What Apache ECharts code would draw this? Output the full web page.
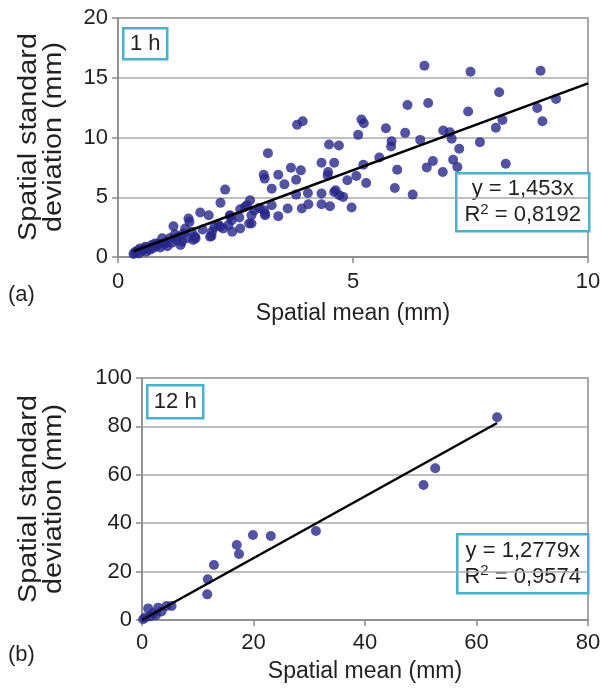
<!DOCTYPE html>
<html>
<head>
<meta charset="utf-8">
<title>Spatial mean vs spatial standard deviation</title>
<script src="https://cdn.jsdelivr.net/npm/echarts@6/dist/echarts.min.js"></script>
<style>
  html, body { margin: 0; padding: 0; background: #ffffff; }
  #chart { width: 610px; height: 692px; }
</style>
</head>
<body>
<div id="chart"></div>
<script>
// Panel (a): 1 h accumulations, [spatial mean, spatial standard deviation] in mm
const hourlyPoints = [
  [0.33,0.25],[0.36,0.35],[0.37,0.44],[0.42,0.55],[0.45,0.30],[0.47,0.72],[0.50,0.50],
  [0.54,0.65],[0.58,0.86],[0.60,0.45],[0.64,0.80],[0.68,0.60],[0.72,1.00],[0.75,0.75],
  [0.79,1.14],[0.82,0.90],[0.86,1.14],[0.90,0.80],[0.94,1.56],[0.98,1.10],[1.01,1.14],
  [1.05,0.90],[1.10,1.56],[1.15,1.20],[1.18,2.58],[1.21,1.90],[1.25,1.40],[1.29,1.69],
  [1.33,1.00],[1.36,1.28],[1.39,1.97],[1.43,2.39],[1.48,1.60],
  [1.50,3.22],[1.52,2.94],[1.57,2.11],[1.60,1.42],[1.64,1.69],[1.65,1.56],[1.75,3.72],
  [1.80,2.30],[1.93,3.50],[1.96,1.69],[1.99,1.75],[2.00,2.11],[2.05,2.50],[2.14,2.67],
  [2.17,2.53],[2.18,4.53],[2.24,2.39],[2.28,5.64],[2.35,2.67],[2.38,3.50],[2.39,3.42],
  [2.42,3.08],[2.43,2.11],
  [2.58,3.31],[2.60,4.00],[2.60,2.39],[2.70,4.19],[2.74,4.33],[2.79,2.81],[2.81,4.75],
  [2.84,3.50],[2.84,2.81],[2.90,3.90],[3.00,4.10],[3.10,3.92],[3.10,6.89],[3.12,6.56],
  [3.13,3.50],[3.13,3.64],[3.19,8.69],[3.27,5.72],[3.27,4.33],
  [3.41,6.89],[3.41,3.42],[3.54,6.08],[3.61,4.06],[3.68,7.47],[3.79,6.47],[3.79,5.22],
  [3.81,11.06],[3.89,7.25],[3.91,4.06],[3.93,11.36],[4.04,5.36],[4.05,4.42],
  [4.33,7.89],[4.33,5.31],[4.33,4.42],[4.46,6.83],[4.47,7.11],[4.49,9.42],[4.51,4.25],
  [4.60,7.89],[4.60,5.44],[4.63,5.58],[4.70,9.33],[4.71,5.17],[4.79,5.03],[4.88,6.42],
  [4.97,4.14],[5.07,6.78],[5.11,10.22],[5.18,11.50],[5.22,7.72],[5.23,11.19],[5.28,6.19],
  [5.56,8.33],[5.70,10.78],[5.81,9.25],[5.82,9.69],[5.89,5.78],[5.94,7.31],[6.11,10.39],
  [6.16,12.72],[6.27,5.22],[6.43,9.80],[6.52,16.00],[6.57,7.50],[6.60,12.89],[6.70,8.03],
  [6.91,7.11],[6.92,10.58],[7.06,10.44],[7.10,9.89],[7.13,8.14],[7.22,7.53],[7.26,9.06],
  [7.45,12.17],[7.50,15.50],[7.70,9.61],[8.04,10.81],[8.11,13.78],[8.18,11.47],[8.25,7.81],
  [8.92,12.47],[8.99,15.58],[9.03,11.36],[9.32,13.22]
];

// Panel (b): 12 h accumulations
const twelveHourPoints = [
  [0.2,0.3],[0.6,1.0],[1.1,4.8],[1.5,1.5],[2.0,2.8],[2.5,2.0],[2.9,5.1],[3.5,3.5],
  [4.4,5.8],[5.3,5.8],[11.7,10.6],[11.8,16.8],[12.9,22.7],[17.0,31.0],[17.4,27.3],
  [19.9,35.1],[23.1,34.7],[31.2,36.8],[50.5,55.8],[52.6,62.7],[63.7,83.8]
];

// Regression through the origin, as printed in each panel
const hourlyFit = { slope: 1.453, r2: '0,8192', xEnd: 10 };
const twelveHourFit = { slope: 1.2779, r2: '0,9574', xStart: 0 };

const hourlyXTicks = [0, 10, 5];     // min, max, interval
const hourlyYTicks = [0, 20, 5];
const twelveHourXTicks = [0, 80, 20];
const twelveHourYTicks = [0, 100, 20];

const X_TITLE = 'Spatial mean (mm)';
const Y_TITLE = 'Spatial standard\ndeviation (mm)';

const FONT = "'Liberation Sans', Arial, sans-serif";
const TEXT = '#231f20';
const DOT = '#27288a';
const FRAME = '#8a8a8a';
const GRIDLINE = '#a8a8a8';
const BOX = '#4bb0cc';
const TICK_SIZE = 22;
const NAME_SIZE = 23;

function decimalComma(v) { return String(v).replace('.', ','); }

function axisX(ticks, gridIndex, margin, gap) {
  return {
    type: 'value', gridIndex: gridIndex,
    min: ticks[0], max: ticks[1], interval: ticks[2],
    name: X_TITLE, nameLocation: 'middle', nameGap: gap,
    nameTextStyle: { fontSize: NAME_SIZE, color: TEXT, fontFamily: FONT },
    axisLine: { show: true, onZero: false, lineStyle: { color: FRAME, width: 1.5 } },
    axisTick: { show: true, length: 6, lineStyle: { color: FRAME, width: 1.5 } },
    axisLabel: { fontSize: TICK_SIZE, color: TEXT, fontFamily: FONT, margin: margin },
    splitLine: { show: false }
  };
}

function axisY(ticks, gridIndex) {
  return {
    type: 'value', gridIndex: gridIndex,
    min: ticks[0], max: ticks[1], interval: ticks[2],
    axisLine: { show: true, onZero: false, lineStyle: { color: FRAME, width: 1.5 } },
    axisTick: { show: true, length: 6, lineStyle: { color: FRAME, width: 1.5 } },
    axisLabel: { fontSize: TICK_SIZE, color: TEXT, fontFamily: FONT, margin: 10 },
    splitLine: { show: true, lineStyle: { color: GRIDLINE, width: 1.5 } }
  };
}

// Vertical axis title, drawn rotated and slightly elongated along its reading direction
function yTitle(cx, cy) {
  return {
    type: 'text', x: cx, y: cy, rotation: Math.PI / 2, scaleX: 1.15, scaleY: 1,
    style: {
      text: Y_TITLE, fontSize: 25, lineHeight: 25, fontFamily: FONT, fill: TEXT,
      align: 'center', verticalAlign: 'middle'
    }
  };
}

function minX(points) { return Math.min.apply(null, points.map(p => p[0])); }
function maxX(points) { return Math.max.apply(null, points.map(p => p[0])); }

const hourlyLineStart = minX(hourlyPoints);
const twelveHourLineEnd = maxX(twelveHourPoints);

function labelBox(x, y, w, h, lines) {
  return {
    type: 'group', left: x, top: y,
    children: [
      { type: 'rect', shape: { x: 0, y: 0, width: w, height: h },
        style: { fill: '#ffffff', stroke: BOX, lineWidth: 2.5 } },
      { type: 'text', x: w / 2, y: h / 2,
        style: {
          text: lines, rich: {
            t: { fontSize: 22, fontFamily: FONT, fill: TEXT, lineHeight: 26 },
            s: { fontSize: 15, fontFamily: FONT, fill: TEXT, lineHeight: 26, verticalAlign: 'top', padding: [0, 0, 9, 0] }
          },
          align: 'center', verticalAlign: 'middle'
        } }
    ]
  };
}

const chart = echarts.init(document.getElementById('chart'), null, { renderer: 'canvas' });

chart.setOption({
  backgroundColor: '#ffffff',
  animation: false,
  grid: [
    { left: 118, top: 18, width: 470, height: 239, show: true, borderColor: FRAME, borderWidth: 1.5, backgroundColor: 'transparent' },
    { left: 142, top: 378, width: 446, height: 242, show: true, borderColor: FRAME, borderWidth: 1.5, backgroundColor: 'transparent' }
  ],
  xAxis: [
    axisX(hourlyXTicks, 0, 14, 45),
    axisX(twelveHourXTicks, 1, 12, 40)
  ],
  yAxis: [
    axisY(hourlyYTicks, 0),
    axisY(twelveHourYTicks, 1)
  ],
  series: [
    { type: 'scatter', xAxisIndex: 0, yAxisIndex: 0, data: hourlyPoints,
      symbol: 'circle', symbolSize: 10, itemStyle: { color: DOT }, z: 2 },
    { type: 'line', xAxisIndex: 0, yAxisIndex: 0, showSymbol: false, symbol: 'none',
      data: [[hourlyLineStart, hourlyFit.slope * hourlyLineStart], [hourlyFit.xEnd, hourlyFit.slope * hourlyFit.xEnd]],
      lineStyle: { color: '#000000', width: 2.5 }, z: 3 },
    { type: 'scatter', xAxisIndex: 1, yAxisIndex: 1, data: twelveHourPoints,
      symbol: 'circle', symbolSize: 10, itemStyle: { color: DOT }, z: 2 },
    { type: 'line', xAxisIndex: 1, yAxisIndex: 1, showSymbol: false, symbol: 'none',
      data: [[twelveHourFit.xStart, twelveHourFit.slope * twelveHourFit.xStart], [twelveHourLineEnd, twelveHourFit.slope * twelveHourLineEnd]],
      lineStyle: { color: '#000000', width: 2.5 }, z: 3 }
  ],
  graphic: [
    yTitle(42, 137),
    yTitle(42, 499),
    labelBox(122, 27, 44, 31, '{t|1 h}'),
    labelBox(455, 172, 133, 58, '{t|y = ' + decimalComma(hourlyFit.slope) + 'x}\n{t|R}{s|2}{t| = ' + hourlyFit.r2 + '}'),
    labelBox(146, 384, 56, 33, '{t|12 h}'),
    labelBox(456, 533, 131, 59, '{t|y = ' + decimalComma(twelveHourFit.slope) + 'x}\n{t|R}{s|2}{t| = ' + twelveHourFit.r2 + '}'),
    { type: 'text', left: 8, top: 284, style: { text: '(a)', fontSize: 22, fontFamily: FONT, fill: TEXT } },
    { type: 'text', left: 8, top: 644, style: { text: '(b)', fontSize: 22, fontFamily: FONT, fill: TEXT } }
  ]
});
</script>
</body>
</html>
